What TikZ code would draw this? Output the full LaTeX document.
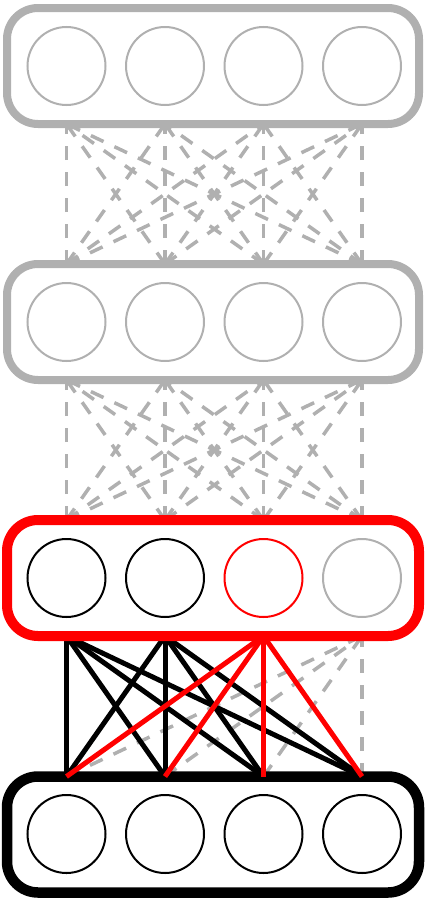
\documentclass[tikz,border=0pt]{standalone}
\usepackage{tikz}
\definecolor{ltgray}{RGB}{176,176,176}
\pgfdeclarelayer{background}
\pgfsetlayers{background,main}
\begin{document}
\begin{tikzpicture}[x=1pt,y=-1pt,
  lay/.style 2 args={draw=#1,line width=#2,rectangle,rounded corners=31pt,minimum width=412pt,minimum height=116pt,inner sep=0pt,outer sep=0pt},
  neuron/.style={draw=#1,circle,line width=2pt,minimum size=78pt,inner sep=0pt},
  cnx/.style={draw=#1,line width=5pt},
  dcnx/.style={draw=ltgray,line width=3.5pt,dash pattern=on 14pt off 12pt}]
\useasboundingbox (0,0) rectangle (429,902);
% layers
\foreach \l/\y/\c/\w in {1/66/ltgray/8pt,2/322/ltgray/8pt,3/578/red/10pt,4/834.5/black/10.5pt}
   \node[lay={\c}{\w}] (L\l) at (213,\y) {};
% units
\foreach \i/\x in {1/66.5,2/165,3/263.5,4/362} {
   \node[neuron=ltgray] (n1\i) at (\x,66) {};
   \node[neuron=ltgray] (n2\i) at (\x,322) {};
   \node[neuron=black] (n4\i) at (\x,834) {};
}
\foreach \i/\c in {1/black,2/black,3/red,4/ltgray}
   \node[neuron=\c] (n3\i) at (n4\i |- L3) {};
% ends of connections
\foreach \l in {1,2,3,4}
   \foreach \i in {1,2,3,4} {
      \coordinate (t\l\i) at (n\l\i |- L\l.north);
      \coordinate (b\l\i) at (n\l\i |- L\l.south);
   }
% connections
\begin{pgfonlayer}{background}
\foreach \i in {1,2,3,4}
   \foreach \j in {1,2,3,4} {
      \draw[dcnx] (t2\i) -- (b1\j);
      \draw[dcnx] (t3\i) -- (b2\j);
   }
\foreach \j in {1,2,3,4}
   \draw[dcnx] (t4\j) -- (b34);
\foreach \i in {1,2}
   \foreach \j in {1,2,3,4}
      \draw[cnx=black] (b3\i) -- (t4\j);
\end{pgfonlayer}
\foreach \j in {1,2,3,4}
   \draw[cnx=red] (b33) -- (t4\j);
\end{tikzpicture}
\end{document}
